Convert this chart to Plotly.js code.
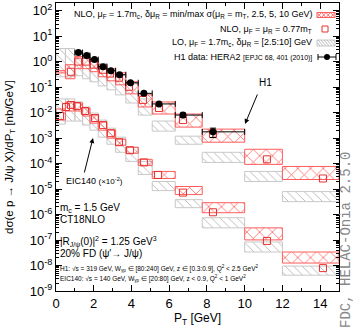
<!DOCTYPE html>
<html><head><meta charset="utf-8">
<script src="https://cdn.plot.ly/plotly-3.0.1.min.js"></script>
<style>body{margin:0;padding:0;background:#fff}#chart{width:353px;height:331px}</style>
</head><body><div id="chart"></div>
<script>
// ---------- data ----------
const binLo = [0, 0.5, 1, 1.41, 1.8, 2.24, 2.7, 3.16, 3.7, 4.36, 5.1, 6.32, 7.75, 10, 12];
const binHi = [0.5, 1, 1.41, 1.8, 2.24, 2.7, 3.16, 3.7, 4.36, 5.1, 6.32, 7.75, 10, 12, 15];

const h1NloUp  = [0.441, 0.76, 1.58, 1.58, 1.2, 0.76, 0.529, 0.367, 0.162, 0.0497, 0.0262, 0.0088, 0.00225, 3.64e-4, 7.7e-5];
const h1NloLow = [0.36, 0.213, 0.529, 0.529, 0.403, 0.255, 0.177, 0.123, 0.0543, 0.0166, 0.0088, 0.0027, 6.9e-4, 9.3e-5, 2.37e-5];
const h1LoUp   = [3.27, 3.27, 2.72, 2.07, 1.31, 0.834, 0.529, 0.306, 0.135, 0.0345, 0.00466, 0.00119, 2.77e-4, 4.92e-5, 7.96e-6];
const h1LoLow  = [0.255, 0.255, 0.28, 0.213, 0.162, 0.112, 0.078, 0.0497, 0.0239, 0.008, 0.00188, 5.74e-4, 1.11e-4, 1.98e-5, 3.2e-6];

const eicNloUp  = [0.01387, 0.0262, 0.0239, 0.0152, 8.04e-3, 4.25e-3, 2.05e-3, 9.06e-4, 4.37e-4, 1.47e-4, 4.92e-5, 1.26e-5, 2.92e-6, 3.0e-7, 3.39e-8];
const eicNloLow = [5.1e-3, 0.01157, 0.01157, 7.34e-3, 3.88e-3, 2.05e-3, 9.9e-4, 5.24e-4, 2.53e-4, 8.5e-5, 2.6e-5, 6.07e-6, 1.18e-6, 1.01e-7, 1.25e-8];
const eicLoUp   = [0.0345, 0.0345, 0.0262, 0.0166, 9.64e-3, 5.1e-3, 2.46e-3, 1.09e-3, 4.37e-4, 1.22e-4, 1.98e-5, 3.85e-6, 7.5e-7, 8.4e-8, 9.5e-9];
const eicLoLow  = [3.54e-3, 4.66e-3, 4.66e-3, 3.24e-3, 2.05e-3, 1.09e-3, 5.74e-4, 2.77e-4, 1.22e-4, 3.74e-5, 8.7e-6, 1.86e-6, 3.0e-7, 3.39e-8, 4.18e-9];

const h1SqX = [0.79, 1.17, 1.59, 2.01, 2.49, 2.86, 3.34, 3.87, 4.61, 5.46, 6.73, 8.32, 11.18, 14.15];
const h1SqY = [0.40, 1.0, 1.0, 0.76, 0.48, 0.34, 0.233, 0.103, 0.0315, 0.0152, 0.0051, 0.00143, 1.47e-4, 2.6e-5];

const eicSqX = [0.21, 0.53, 0.79, 1.11, 1.54, 2.07, 2.49, 2.91, 3.34, 3.92, 4.66, 5.41, 6.73, 8.32, 11.18, 14.15];
const eicSqY = [7.34e-3, 0.0166, 0.02, 0.0182, 0.01157, 6.12e-3, 3.24e-3, 1.56e-3, 6.9e-4, 3.33e-4, 1.11e-4, 3.57e-5, 7.28e-6, 1.23e-6, 9.2e-8, 7.9e-9];

const dataLo  = [1, 1.41, 1.8, 2.24, 2.7, 3.16, 3.7, 4.36, 5.1, 6.32, 7.75];
const dataHi  = [1.41, 1.8, 2.24, 2.7, 3.16, 3.7, 4.36, 5.1, 6.32, 7.75, 10];
const dataX   = [1.19, 1.63, 2.04, 2.49, 2.91, 3.37, 3.95, 4.66, 5.46, 6.73, 8.32];
const dataY   = [2.27, 1.73, 1.20, 0.634, 0.441, 0.306, 0.148, 0.0569, 0.0219, 0.0080, 0.00176];
const dataErr = [0.22, 0.17, 0.12, 0.065, 0.045, 0.032, 0.016, 0.0065, 0.0028, 0.0016, 0.0007];

const yExps = [-9, -8, -7, -6, -5, -4, -3, -2, -1, 0, 1, 2];
const xTicks = [0, 2, 4, 6, 8, 10, 12, 14];

// ---------- helpers ----------
const RED = '#ff5c5c', SQRED = '#e8322f', GRAY = '#b0b0b0';
const FONT = 'Liberation Sans, Arial, sans-serif';
const X0 = 56, X1 = 339, Y0 = 3, Y1 = 291;
const fx = p => (p - X0) / (X1 - X0);
const fy = p => (Y1 - p) / (Y1 - Y0);

const centers = binLo.map((l, i) => (l + binHi[i]) / 2);
const widths = binLo.map((l, i) => binHi[i] - l);

function band(up, low, color, shape, lineColor, size, sol) {
  return {
    type: 'bar', x: centers, width: widths, base: low,
    y: up.map((u, i) => u - low[i]),
    marker: {
      color: 'rgba(0,0,0,0)',
      line: {color: lineColor, width: 1},
      pattern: {shape: shape, fgcolor: color, bgcolor: 'rgba(0,0,0,0)', fillmode: 'replace', size: size, solidity: sol}
    },
    hoverinfo: 'skip', showlegend: false
  };
}

const traces = [
  band(h1LoUp, h1LoLow, GRAY, '\\', '#c8c8c8', 6, 0.14),
  band(eicLoUp, eicLoLow, GRAY, '\\', '#c8c8c8', 6, 0.14),
  band(h1NloUp, h1NloLow, RED, 'x', RED, 9, 0.16),
  band(eicNloUp, eicNloLow, RED, 'x', RED, 9, 0.16),
  {type: 'scatter', mode: 'markers', x: h1SqX, y: h1SqY,
   marker: {symbol: 'square-open', size: 7, color: SQRED, line: {width: 1, color: SQRED}}, showlegend: false},
  {type: 'scatter', mode: 'markers', x: eicSqX, y: eicSqY,
   marker: {symbol: 'square-open', size: 7, color: SQRED, line: {width: 1, color: SQRED}}, showlegend: false},
  {type: 'scatter', mode: 'markers', x: dataX, y: dataY,
   marker: {symbol: 'circle', size: 7, color: '#000'},
   error_x: {type: 'data', symmetric: false, array: dataHi.map((h, i) => h - dataX[i]),
             arrayminus: dataX.map((x, i) => x - dataLo[i]), color: '#000', thickness: 1, width: 3},
   error_y: {type: 'data', array: dataErr, color: '#000', thickness: 1, width: 3},
   showlegend: false}
];

const yTickVals = yExps.map(e => Math.pow(10, e));
const yTickText = yExps.map(e => '10<sup>' + e + '</sup>');
const minorVals = [];
for (let e = -9; e <= 2; e++) for (let m = 2; m <= 9; m++) { const v = m * Math.pow(10, e); if (v <= 200) minorVals.push(v); }

// ---------- legend & annotations ----------
const shapes = [];
const ann = [];
function pathShape(d, color, w) { shapes.push({type: 'path', xref: 'paper', yref: 'paper', path: d, line: {color: color, width: w || 1}}); }
const P = (x, y) => fx(x).toFixed(5) + ',' + fy(y).toFixed(5);

// row1: NLO band box
shapes.push({type: 'rect', xref: 'paper', yref: 'paper', x0: fx(317), x1: fx(335), y0: fy(17.5), y1: fy(12.5), line: {color: RED, width: 1}});
pathShape('M' + P(317, 12.5) + 'L' + P(321.5, 17.5) + 'L' + P(326, 12.5) + 'L' + P(330.5, 17.5) + 'L' + P(335, 12.5), RED, 0.9);
pathShape('M' + P(317, 17.5) + 'L' + P(321.5, 12.5) + 'L' + P(326, 17.5) + 'L' + P(330.5, 12.5) + 'L' + P(335, 17.5), RED, 0.9);
// row2: square
shapes.push({type: 'rect', xref: 'paper', yref: 'paper', x0: fx(322), x1: fx(328), y0: fy(32), y1: fy(26), line: {color: SQRED, width: 1}});
// row3: LO box
shapes.push({type: 'rect', xref: 'paper', yref: 'paper', x0: fx(317), x1: fx(335), y0: fy(46), y1: fy(40), line: {color: '#c8c8c8', width: 1}});
for (let x = 315; x <= 333; x += 3) {
  const xa = Math.max(x, 317), ya = 40 + (xa - x) * 1.2;
  const xb = Math.min(x + 5, 335), yb = 40 + (xb - x) * 1.2;
  pathShape('M' + P(xa, ya) + 'L' + P(xb, Math.min(yb, 46)), GRAY, 0.8);
}
// row4: data point
pathShape('M' + P(318, 57) + 'L' + P(336, 57), '#000', 1);
pathShape('M' + P(318, 54) + 'L' + P(318, 60), '#000', 1);
pathShape('M' + P(336, 54) + 'L' + P(336, 60), '#000', 1);
shapes.push({type: 'circle', xref: 'paper', yref: 'paper', x0: fx(324), x1: fx(330), y0: fy(60), y1: fy(54), fillcolor: '#000', line: {color: '#000', width: 0}});

function txt(text, px, py, size, anchor, extra) {
  ann.push(Object.assign({xref: 'paper', yref: 'paper', x: fx(px), y: fy(py), text: text, showarrow: false,
    xanchor: anchor || 'left', yanchor: 'middle', font: {family: FONT, size: size, color: '#000'}}, extra || {}));
}
txt('NLO, μ<sub>F</sub> = 1.7m<sub>c</sub>, δμ<sub>R</sub> = min/max σ(μ<sub>R</sub> = m<sub>T</sub>, 2.5, 5, 10 GeV)', 314, 15, 9, 'right');
txt('NLO, μ<sub>F</sub> = μ<sub>R</sub> = 0.77m<sub>T</sub>', 314, 29, 9, 'right');
txt('LO, μ<sub>F</sub> = 1.7m<sub>c</sub>, δμ<sub>R</sub> = [2.5:10] GeV', 314, 43, 9, 'right');
txt("H1 data: HERA2 <span style='font-size:7px'>[EPJC 68, 401 (2010)]</span>", 314, 57, 9, 'right');

txt('H1', 265, 82, 10, 'center');
txt("EIC140 <span style='font-size:8px'>(×10<sup>-2</sup>)</span>", 94, 181, 9, 'center');

txt('m<sub>c</sub> = 1.5 GeV', 58, 208, 10);
txt('CT18NLO', 58, 219, 10);
txt('|R<sub>J/ψ</sub>(0)|<sup>2</sup> = 1.25 GeV<sup>3</sup>', 58, 242, 10);
txt('20% FD (ψ′→ J/ψ)', 58, 253, 10);
txt('H1: √s = 319 GeV, W<sub>γp</sub> ∈ [80:240] GeV, z ∈ [0.3:0.9], Q<sup>2</sup> &lt; 2.5 GeV<sup>2</sup>', 58, 268, 6.5);
txt('EIC140: √s = 140 GeV, W<sub>γp</sub> ∈ [20:80] GeV, z &lt; 0.9, Q<sup>2</sup> &lt; 1 GeV<sup>2</sup>', 58, 278, 6.5);

// y-axis title as rotated text
txt('dσ(e p → J/ψ X)/dP<sub>T</sub> [nb/GeV]', 10, 157, 11.5, 'center', {textangle: -90});
// vertical program tag
txt('FDC, HELAC-Onia 2.5.0', 346, 240, 14, 'center', {textangle: -90, font: {family: 'Liberation Mono, monospace', size: 14, color: '#888'}});

// arrows
ann.push({xref: 'paper', yref: 'paper', x: fx(245), y: fy(124), text: '', showarrow: true, ax: 13, ay: -31,
  arrowhead: 2, arrowsize: 1, arrowwidth: 1, arrowcolor: '#000', standoff: 0});
ann.push({xref: 'paper', yref: 'paper', x: fx(93), y: fy(138), text: '', showarrow: true, ax: -9, ay: 36,
  arrowhead: 2, arrowsize: 1, arrowwidth: 1, arrowcolor: '#000', standoff: 0});

const layout = {
  width: 353, height: 331,
  margin: {l: X0, r: 353 - X1, t: Y0, b: 331 - Y1, pad: 0},
  paper_bgcolor: '#fff', plot_bgcolor: '#fff',
  barmode: 'overlay', bargap: 0,
  font: {family: FONT, size: 13, color: '#000'},
  showlegend: false,
  xaxis: {
    range: [0, 15], tickmode: 'array', tickvals: xTicks, ticktext: xTicks.map(String),
    ticks: 'inside', ticklen: 6, tickcolor: '#000', mirror: 'allticks', showline: true, linecolor: '#000', linewidth: 1,
    showgrid: false, zeroline: false,
    minor: {tickmode: 'linear', tick0: 0, dtick: 1, ticks: 'inside', ticklen: 3, tickcolor: '#000', showgrid: false},
    tickfont: {family: FONT, size: 13},
    title: {text: 'P<sub>T</sub> [GeV]', font: {family: FONT, size: 12}, standoff: 4},
    automargin: false
  },
  yaxis: {
    type: 'log', range: [-9, Math.log10(200)],
    tickmode: 'array', tickvals: yTickVals, ticktext: yTickText,
    ticks: 'inside', ticklen: 6, tickcolor: '#000', mirror: 'allticks', showline: true, linecolor: '#000', linewidth: 1,
    showgrid: false, zeroline: false,
    minor: {tickmode: 'array', tickvals: minorVals, ticks: 'inside', ticklen: 3, tickcolor: '#000', showgrid: false},
    tickfont: {family: FONT, size: 13},
    automargin: false
  },
  shapes: shapes,
  annotations: ann
};

Plotly.newPlot('chart', traces, layout, {staticPlot: true, displayModeBar: false});
</script>
</body></html>
